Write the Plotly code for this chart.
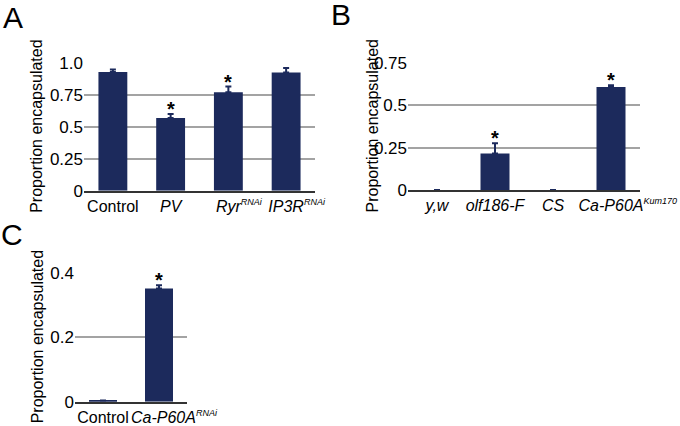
import plotly.graph_objects as go

# Panel A
a_labels = ["Control", "PV", "Ryr", "IP3R"]
a_sups = ["", "", "RNAi", "RNAi"]
a_italic = [False, True, True, True]
a_values = [0.93, 0.57, 0.77, 0.925]
a_errors = [0.02, 0.03, 0.045, 0.035]
a_star = [False, True, True, False]

# Panel B
b_labels = ["y,w", "olf186-F", "CS", "Ca-P60A"]
b_sups = ["", "", "", "Kum170"]
b_italic = [True, True, True, True]
b_values = [0.0, 0.216, 0.0, 0.608]
b_errors = [0.0, 0.06, 0.0, 0.01]
b_star = [False, True, False, True]

# Panel C
c_labels = ["Control", "Ca-P60A"]
c_sups = ["", "RNAi"]
c_italic = [False, True]
c_values = [0.004, 0.352]
c_errors = [0.0, 0.01]
c_star = [False, True]

BAR = "#1c2a5c"
GRID = "#a3a3a3"
FONT = "Liberation Sans, Arial, sans-serif"

W, H = 680, 426


def px_x(a, b):
    return [a / W, b / W]


def px_y(top, bottom):
    return [1 - bottom / H, 1 - top / H]


def tick_text(base, sup, italic, extra):
    # base text stays centred on the bar, the small superscript hangs to the right
    txt = base
    if sup:
        s = '<sup><span style="font-size:9px">%s</span></sup>' % sup
        pad = '<span style="color:rgba(0,0,0,0)">%s%s</span>' % ("&nbsp;" * extra, s)
        txt = pad + base + s
    return "<i>%s</i>" % txt if italic else txt


panels = [
    ("", a_labels, a_sups, a_italic, a_values, a_errors, a_star,
     px_x(84, 315), px_y(63, 190.7), [0, 1.0],
     [0, 0.25, 0.5, 0.75, 1.0], ["0", "0.25", "0.5", "0.75", "1.0"], 37, 0),
    ("2", b_labels, b_sups, b_italic, b_values, b_errors, b_star,
     px_x(408, 640), px_y(63, 190), [0, 0.75],
     [0, 0.25, 0.5, 0.75], ["0", "0.25", "0.5", "0.75"], 372, 0),
    ("3", c_labels, c_sups, c_italic, c_values, c_errors, c_star,
     px_x(75, 187), px_y(273, 401.7), [0, 0.4],
     [0, 0.2, 0.4], ["0", "0.2", "0.4"], 37, 2),
]

fig = go.Figure()
layout = {}
annotations = []

for (sfx, labels, sups, italic, values, errors, stars, xdom, ydom, yrange,
     tickv, tickt, title_x, extra) in panels:
    fig.add_trace(go.Bar(
        x=labels, y=values,
        marker=dict(color=BAR, line=dict(width=0)),
        error_y=dict(type="data", symmetric=False, array=errors,
                     arrayminus=[0] * len(errors), color=BAR, thickness=2, width=3),
        xaxis="x" + sfx, yaxis="y" + sfx,
    ))
    layout["xaxis" + sfx] = dict(
        domain=xdom, anchor="y" + sfx, showline=True, linecolor="#333333", linewidth=1.5,
        showgrid=False, ticks="", tickangle=0, automargin=False,
        tickmode="array", tickvals=labels,
        ticktext=[tick_text(b, s, i, extra) for b, s, i in zip(labels, sups, italic)],
        tickfont=dict(size=16, color="black", family=FONT), fixedrange=True,
    )
    layout["yaxis" + sfx] = dict(
        domain=ydom, anchor="x" + sfx, range=yrange, tickvals=tickv, ticktext=tickt,
        showgrid=True, gridcolor=GRID, gridwidth=1.5, showline=False, zeroline=False,
        ticks="", automargin=False, tickfont=dict(size=17, color="black", family=FONT),
    )
    annotations.append(dict(
        x=title_x / W, y=sum(ydom) / 2, xref="paper", yref="paper",
        text="Proportion encapsulated", textangle=-90, showarrow=False,
        xanchor="center", yanchor="middle", font=dict(size=16, color="black", family=FONT),
    ))
    for lab, v, e, s in zip(labels, values, errors, stars):
        if s:
            annotations.append(dict(
                x=lab, y=v + e, xref="x" + sfx, yref="y" + sfx, text="<b>*</b>",
                showarrow=False, yanchor="bottom", yshift=-8,
                font=dict(size=20, color="black", family=FONT),
            ))

for letter, x, y in [("A", 13, 17), ("B", 341, 15), ("C", 12, 234)]:
    annotations.append(dict(
        x=x / W, y=1 - y / H, xref="paper", yref="paper", text=letter,
        showarrow=False, xanchor="center", yanchor="middle",
        font=dict(size=30, color="black", family=FONT),
    ))

fig.update_layout(
    width=W, height=H, margin=dict(l=0, r=0, t=0, b=0),
    paper_bgcolor="white", plot_bgcolor="white", showlegend=False,
    bargap=0.5, annotations=annotations, **layout,
)

# drop the default 8px body margin so the figure fills the window exactly
fig.write_html("out.html", config={"displayModeBar": False},
               post_script="document.body.style.margin='0';")
